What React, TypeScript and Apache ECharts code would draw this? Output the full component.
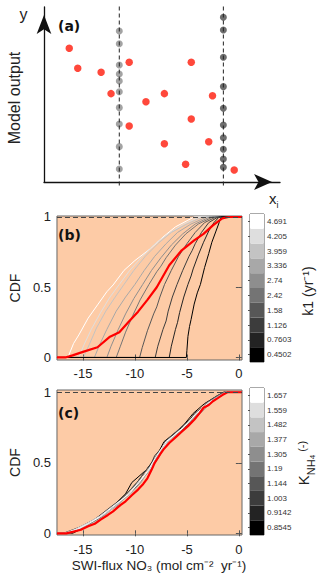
import React, { useEffect, useRef } from 'react';
import * as echarts from 'echarts';

const FONT = '"Liberation Sans", Arial, Helvetica, sans-serif';
const BOLD_FONT = '"DejaVu Sans", Verdana, sans-serif';
const BG = '#fdcba6';

// ---------- Panel (a): schematic ----------
const redDotsX = [1.07, 1.43, 2.42, 2.84, 3.61, 3.61, 4.32, 5.10, 5.10, 6.00, 6.24, 6.24, 6.98, 7.14, 8.06];
const redDotsY = [7.64, 6.50, 6.27, 5.05, 6.84, 3.20, 4.59, 5.05, 2.19, 1.01, 6.84, 3.60, 2.30, 4.93, 0.69];
const xiPositions = [3.19, 7.60];
const lightDotsY = [8.63, 7.90, 6.69, 6.17, 5.77, 5.16, 4.25, 3.31, 2.02, 0.74];
const darkDotsY = [9.41, 8.69, 7.13, 5.45, 4.21, 3.26, 2.53, 1.87, 1.31, 0.84];

// ---------- Colour bars ----------
const k1Labels = ['0.4502', '0.7603', '1.126', '1.58', '2.42', '2.74', '3.336', '3.959', '4.205', '4.691'];
const knh4Labels = ['0.8545', '0.9142', '1.003', '1.144', '1.19', '1.305', '1.377', '1.482', '1.559', '1.657'];
const grayShades = ['#000000', '#232323', '#3c3c3c', '#575757', '#747474', '#8e8e8e', '#a8a8a8', '#c3c3c3', '#dedede', '#ffffff'];

// ---------- Panel (b): CDFs per k1 bin (dark -> light) ----------
const bCurve0 = [[-17.5, 0], [-5.05, 0], [-5.0, 0.05], [-4.9, 0.15], [-4.75, 0.22], [-4.6, 0.27], [-4.3, 0.38], [-4.0, 0.46], [-3.7, 0.52], [-3.5, 0.58], [-3.3, 0.64], [-2.9, 0.74], [-2.6, 0.82], [-2.2, 0.9], [-1.9, 0.96], [-1.7, 1], [0.3, 1]];
const bCurve1 = [[-17.5, 0], [-6.7, 0], [-6.5, 0.08], [-6.1, 0.2], [-5.9, 0.25], [-5.7, 0.32], [-5.3, 0.43], [-4.9, 0.52], [-4.6, 0.58], [-4.4, 0.63], [-3.9, 0.73], [-3.4, 0.82], [-2.9, 0.9], [-2.4, 0.96], [-1.9, 1], [0.3, 1]];
const bCurve2 = [[-17.5, 0], [-8.05, 0], [-7.8, 0.08], [-7.3, 0.2], [-7.0, 0.26], [-6.8, 0.33], [-6.4, 0.43], [-5.95, 0.52], [-5.4, 0.62], [-4.8, 0.72], [-4.5, 0.76], [-4.2, 0.81], [-3.6, 0.89], [-2.9, 0.96], [-2.0, 1], [0.3, 1]];
const bCurve3 = [[-17.5, 0], [-9.55, 0], [-9.3, 0.07], [-8.8, 0.19], [-8.2, 0.31], [-7.9, 0.36], [-7.6, 0.43], [-7.15, 0.52], [-6.5, 0.62], [-5.8, 0.72], [-5.0, 0.81], [-4.2, 0.89], [-3.3, 0.96], [-2.2, 1], [0.3, 1]];
const bCurve4 = [[-17.5, 0], [-11.8, 0], [-11.4, 0.08], [-10.9, 0.18], [-10.2, 0.3], [-9.5, 0.41], [-8.65, 0.52], [-7.9, 0.61], [-7.5, 0.65], [-7.0, 0.71], [-6.1, 0.8], [-5.1, 0.88], [-3.9, 0.95], [-2.5, 1], [0.3, 1]];
const bCurve5 = [[-17.5, 0], [-12.7, 0], [-12.3, 0.08], [-11.6, 0.2], [-10.9, 0.31], [-10.1, 0.42], [-9.25, 0.52], [-8.4, 0.62], [-7.5, 0.71], [-6.5, 0.8], [-5.4, 0.88], [-4.2, 0.95], [-2.8, 1], [0.3, 1]];
const bCurve6 = [[-17.5, 0], [-13.9, 0], [-13.4, 0.09], [-12.7, 0.2], [-11.8, 0.33], [-10.9, 0.43], [-10.0, 0.52], [-9.1, 0.62], [-8.1, 0.72], [-7.0, 0.81], [-5.9, 0.89], [-4.6, 0.95], [-3.1, 1], [0.3, 1]];
const bCurve7 = [[-17.5, 0], [-14.95, 0], [-14.4, 0.09], [-13.7, 0.21], [-12.8, 0.33], [-11.9, 0.43], [-11.05, 0.52], [-10.1, 0.62], [-9.0, 0.72], [-7.8, 0.81], [-6.5, 0.89], [-5.0, 0.95], [-3.5, 1], [0.3, 1]];
const bCurve8 = [[-17.5, 0], [-15.4, 0], [-14.9, 0.09], [-14.2, 0.2], [-13.3, 0.32], [-12.4, 0.43], [-11.5, 0.52], [-10.5, 0.62], [-9.4, 0.71], [-8.2, 0.8], [-6.8, 0.88], [-5.3, 0.95], [-3.8, 1], [0.3, 1]];
const bCurve9 = [[-17.5, 0], [-16.45, 0], [-15.9, 0.1], [-15.4, 0.16], [-14.5, 0.28], [-13.6, 0.374], [-12.7, 0.468], [-12.1, 0.516], [-11.05, 0.62], [-10.0, 0.69], [-8.5, 0.775], [-7.3, 0.857], [-6.1, 0.93], [-4.9, 0.977], [-4.3, 1], [0.3, 1]];
const bRed = [[-17.5, 0], [-16.7, 0], [-16.0, 0.015], [-15.0, 0.04], [-13.6, 0.073], [-12.4, 0.148], [-11.5, 0.18], [-10.6, 0.255], [-9.7, 0.326], [-8.8, 0.41], [-7.9, 0.5], [-6.7, 0.656], [-5.5, 0.763], [-4.3, 0.834], [-3.4, 0.88], [-2.5, 0.94], [-1.6, 0.99], [-1.0, 1], [0.3, 1]];
const bCurves = [bCurve0, bCurve1, bCurve2, bCurve3, bCurve4, bCurve5, bCurve6, bCurve7, bCurve8, bCurve9];

// ---------- Panel (c): CDFs per K_NH4 bin (dark -> light) ----------
const cLevels = [0, 0, 0.03, 0.07, 0.12, 0.2, 0.28, 0.36, 0.45, 0.55, 0.65, 0.75, 0.85, 0.92, 0.97, 1, 1];
const cCurve0 = [-17.5, -16.0, -15.2, -14.3, -13.4, -12.0, -10.9, -10.3, -8.9, -7.9, -7.2, -5.5, -4.4, -3.3, -2.2, -1.5, 0.3];
const cCurve1 = [-17.5, -16.3, -15.6, -14.6, -13.3, -11.9, -10.8, -9.8, -8.9, -7.8, -7.0, -5.6, -4.0, -3.1, -2.1, -1.4, 0.3];
const cCurve2 = [-17.5, -16.9, -15.8, -14.4, -13.5, -12.1, -10.6, -9.6, -8.7, -8.1, -6.9, -5.2, -4.3, -2.9, -2.0, -1.3, 0.3];
const cCurve3 = [-17.5, -16.4, -15.5, -14.3, -13.1, -11.8, -10.8, -9.8, -8.9, -7.7, -7.1, -5.6, -3.8, -3.2, -2.2, -1.4, 0.3];
const cCurve4 = [-17.5, -16.6, -15.7, -14.6, -13.4, -11.9, -10.5, -9.5, -8.6, -8.0, -6.9, -5.1, -4.2, -3.0, -2.1, -1.4, 0.3];
const cCurve5 = [-17.5, -16.2, -15.3, -14.2, -13.3, -11.6, -10.6, -9.7, -8.5, -7.6, -7.0, -5.4, -3.7, -2.8, -1.9, -1.3, 0.3];
const cCurve6 = [-17.5, -16.7, -15.4, -14.0, -13.0, -11.8, -10.4, -9.4, -8.7, -7.9, -6.8, -5.3, -4.1, -2.9, -1.9, -1.2, 0.3];
const cCurve7 = [-17.5, -16.5, -15.6, -14.5, -13.2, -11.7, -10.7, -9.6, -8.6, -7.8, -6.9, -5.0, -3.9, -3.1, -2.0, -1.3, 0.3];
const cCurve8 = [-17.5, -16.8, -15.7, -14.6, -13.4, -12.0, -10.5, -9.7, -8.6, -7.7, -6.9, -5.4, -4.0, -2.8, -1.9, -1.2, 0.3];
const cCurve9 = [-17.5, -16.6, -15.5, -14.4, -13.3, -11.9, -10.6, -9.6, -8.7, -7.9, -7.0, -5.3, -4.1, -3.0, -1.9, -1.2, 0.3];
const cCurves = [cCurve0, cCurve1, cCurve2, cCurve3, cCurve4, cCurve5, cCurve6, cCurve7, cCurve8, cCurve9];
const cRed = [[-17.5, 0], [-16.6, 0], [-16.0, 0.01], [-15.2, 0.025], [-14.5, 0.05], [-13.8, 0.07], [-13.3, 0.097], [-12.6, 0.13], [-12.1, 0.156], [-11.4, 0.2], [-10.9, 0.227], [-10.3, 0.27], [-9.7, 0.31], [-9.2, 0.35], [-8.8, 0.39], [-8.4, 0.45], [-8.1, 0.5], [-7.6, 0.557], [-7.2, 0.6], [-6.7, 0.64], [-6.1, 0.68], [-5.5, 0.72], [-4.9, 0.76], [-4.3, 0.805], [-3.8, 0.85], [-3.4, 0.89], [-2.9, 0.91], [-2.5, 0.936], [-2.0, 0.96], [-1.6, 0.98], [-1.1, 1], [0.3, 1]];

const xTickValues = [-15, -10, -5, 0];
const yTickValues = [0, 0.5, 1];

function buildOption() {
  const tickStyle = { show: true, inside: true, length: 3, lineStyle: { color: '#555', width: 1 } };
  const labelStyle = { fontSize: 13, fontFamily: FONT, color: '#222' };

  const cdfAxesX = (gridIndex: number, margin: number) => [
    {
      type: 'value', gridIndex, min: -17.5, max: 0.3, position: 'bottom',
      axisLine: { show: false }, splitLine: { show: false },
      axisTick: { ...tickStyle, customValues: xTickValues },
      axisLabel: { ...labelStyle, margin, customValues: xTickValues },
    },
    {
      type: 'value', gridIndex, min: -17.5, max: 0.3, position: 'top',
      axisLine: { show: false }, splitLine: { show: false },
      axisTick: { ...tickStyle, customValues: xTickValues },
      axisLabel: { show: false },
    },
  ];
  const cdfAxesY = (gridIndex: number, min: number, max: number) => [
    {
      type: 'value', gridIndex, min, max, position: 'left',
      axisLine: { show: false }, splitLine: { show: false },
      axisTick: { ...tickStyle, customValues: yTickValues },
      axisLabel: { ...labelStyle, margin: 6, customValues: yTickValues },
      name: 'CDF', nameLocation: 'middle', nameRotate: 90, nameGap: 28,
      nameTextStyle: { fontSize: 14, fontFamily: FONT, color: '#222' },
    },
    {
      type: 'value', gridIndex, min, max, position: 'right',
      axisLine: { show: false }, splitLine: { show: false },
      axisTick: { ...tickStyle, customValues: yTickValues },
      axisLabel: { show: false },
    },
  ];
  const cbAxisX = (gridIndex: number) => ({ type: 'value', gridIndex, min: 0, max: 1, show: false });
  const cbAxisY = (gridIndex: number, labels: string[]) => ({
    type: 'category', gridIndex, data: labels, position: 'right',
    axisLine: { show: false },
    axisTick: { show: true, inside: true, length: 2, alignWithLabel: true, lineStyle: { color: '#555' } },
    axisLabel: { fontSize: 8, fontFamily: FONT, color: '#333', margin: 3 },
    splitLine: { show: false },
  });

  const series: any[] = [];

  // Panel (a)
  xiPositions.forEach((xv) => {
    series.push({
      type: 'line', xAxisIndex: 0, yAxisIndex: 0, clip: false, showSymbol: false, silent: true,
      data: [[xv, -0.2], [xv, 10.1]],
      lineStyle: { color: '#222', width: 1, type: [4, 3] },
    });
  });
  series.push({
    type: 'scatter', xAxisIndex: 0, yAxisIndex: 0, symbolSize: 7,
    data: lightDotsY.map((y) => [xiPositions[0], y]),
    itemStyle: { color: '#8c8c8c' },
  });
  series.push({
    type: 'scatter', xAxisIndex: 0, yAxisIndex: 0, symbolSize: 7,
    data: darkDotsY.map((y) => [xiPositions[1], y]),
    itemStyle: { color: '#4a4a4a' },
  });
  series.push({
    type: 'scatter', xAxisIndex: 0, yAxisIndex: 0, symbolSize: 7.5,
    data: redDotsX.map((x, i) => [x, redDotsY[i]]),
    itemStyle: { color: '#ff1a0a' },
  });

  const dashedOne = {
    silent: true, symbol: 'none', label: { show: false },
    lineStyle: { color: '#444', width: 1, type: [5, 3] },
    data: [{ yAxis: 1 }],
  };

  // Panel (b): light curves first, dark on top
  for (let i = bCurves.length - 1; i >= 0; i--) {
    series.push({
      type: 'line', xAxisIndex: 1, yAxisIndex: 1, showSymbol: false, silent: true,
      data: bCurves[i], lineStyle: { color: grayShades[i], width: 1 },
      ...(i === bCurves.length - 1 ? { markLine: dashedOne } : {}),
    });
  }
  series.push({
    type: 'line', xAxisIndex: 1, yAxisIndex: 1, showSymbol: false, silent: true,
    data: bRed, lineStyle: { color: '#ff0000', width: 2.2 },
  });

  // Colour bar (b)
  series.push({
    type: 'bar', xAxisIndex: 3, yAxisIndex: 3, barWidth: '100%', barCategoryGap: '0%', silent: true,
    data: grayShades.map((c) => ({ value: 1, itemStyle: { color: c } })),
  });

  // Panel (c): dark curves first, light on top
  for (let i = 0; i < cCurves.length; i++) {
    series.push({
      type: 'line', xAxisIndex: 4, yAxisIndex: 4, showSymbol: false, silent: true,
      data: cCurves[i].map((x, k) => [x, cLevels[k]]), lineStyle: { color: grayShades[i], width: 1 },
      ...(i === 0 ? { markLine: dashedOne } : {}),
    });
  }
  series.push({
    type: 'line', xAxisIndex: 4, yAxisIndex: 4, showSymbol: false, silent: true,
    data: cRed, lineStyle: { color: '#ff0000', width: 2.2 },
  });

  // Colour bar (c)
  series.push({
    type: 'bar', xAxisIndex: 6, yAxisIndex: 6, barWidth: '100%', barCategoryGap: '0%', silent: true,
    data: grayShades.map((c) => ({ value: 1, itemStyle: { color: c } })),
  });

  const txt = (x: number, y: number, text: string, extra: any = {}, rotation = 0) => ({
    type: 'text', x, y, rotation, silent: true,
    style: {
      text, fill: '#222', fontSize: 14, fontFamily: FONT,
      textAlign: 'center', textVerticalAlign: 'middle', ...extra,
    },
  });

  return {
    animation: false,
    backgroundColor: '#ffffff',
    grid: [
      { left: 44, top: 7, width: 236, height: 175 },
      { left: 44, top: 216, width: 198, height: 144, show: true, backgroundColor: BG, borderColor: '#666', borderWidth: 1 },
      { left: 250, top: 214, width: 14, height: 148, show: true, borderColor: '#555', borderWidth: 1 },
      { left: 44, top: 390, width: 198, height: 145, show: true, backgroundColor: BG, borderColor: '#666', borderWidth: 1 },
      { left: 250, top: 388, width: 14, height: 147, show: true, borderColor: '#555', borderWidth: 1 },
    ],
    xAxis: [
      {
        type: 'value', gridIndex: 0, min: 0, max: 10,
        axisLine: { show: true, onZero: true, symbol: ['none', 'arrow'], symbolSize: [12, 18], symbolOffset: [0, -8], lineStyle: { color: '#111', width: 1.3 } },
        axisTick: { show: false }, axisLabel: { show: false }, splitLine: { show: false },
      },
      ...cdfAxesX(1, 7),
      cbAxisX(2),
      ...cdfAxesX(3, 8),
      cbAxisX(4),
    ],
    yAxis: [
      {
        type: 'value', gridIndex: 0, min: 0, max: 10,
        axisLine: { show: true, onZero: true, symbol: ['none', 'arrow'], symbolSize: [11, 19], symbolOffset: [0, -8], lineStyle: { color: '#111', width: 1.3 } },
        axisTick: { show: false }, axisLabel: { show: false }, splitLine: { show: false },
      },
      ...cdfAxesY(1, -0.018, 1.007),
      cbAxisY(2, k1Labels),
      ...cdfAxesY(3, -0.012, 1.016),
      cbAxisY(4, knh4Labels),
    ],
    series,
    graphic: [
      txt(23.5, 14, 'y', { fontSize: 16 }),
      txt(58, 26, '(a)', { fontSize: 14, fontWeight: 'bold', fontFamily: BOLD_FONT, textAlign: 'left', fill: '#111' }),
      txt(14, 98, 'Model output', { fontSize: 16 }, Math.PI / 2),
      {
        type: 'text', x: 269, y: 191, silent: true,
        style: {
          text: '{m|x}{s|i}', fill: '#222', fontFamily: FONT,
          rich: {
            m: { fontSize: 15, fontFamily: FONT, fill: '#222', lineHeight: 18, verticalAlign: 'top' },
            s: { fontSize: 9, fontFamily: FONT, fill: '#222', lineHeight: 10, verticalAlign: 'bottom' },
          },
        },
      },
      txt(58, 235, '(b)', { fontSize: 14, fontWeight: 'bold', fontFamily: BOLD_FONT, textAlign: 'left', fill: '#111' }),
      txt(58, 413, '(c)', { fontSize: 14, fontWeight: 'bold', fontFamily: BOLD_FONT, textAlign: 'left', fill: '#111' }),
      txt(308, 291, 'k1 (yr\u207B\u00B9)', { fontSize: 14 }, Math.PI / 2),
      {
        type: 'text', x: 306, y: 463, rotation: Math.PI / 2, silent: true,
        style: {
          text: '{m|K}{s|NH}{t|4}{r| (-)}', fill: '#222', fontFamily: FONT,
          textAlign: 'center', textVerticalAlign: 'middle',
          rich: {
            m: { fontSize: 15, fontFamily: FONT, fill: '#222', lineHeight: 20, verticalAlign: 'top' },
            s: { fontSize: 11, fontFamily: FONT, fill: '#222', lineHeight: 11, verticalAlign: 'bottom' },
            t: { fontSize: 8, fontFamily: FONT, fill: '#222', lineHeight: 8, verticalAlign: 'bottom' },
            r: { fontSize: 11, fontFamily: FONT, fill: '#222', lineHeight: 12, verticalAlign: 'top' },
          },
        },
      },
      txt(159, 565, 'SWI-flux NO\u2083 (mol cm\u207B\u00B2  yr\u207B\u00B9)', { fontSize: 13.5 }),
    ],
  };
}

export default function App() {
  const ref = useRef<HTMLDivElement>(null);
  useEffect(() => {
    if (!ref.current) return;
    const chart = echarts.init(ref.current, undefined, { renderer: 'svg' });
    chart.setOption(buildOption() as any);
    return () => chart.dispose();
  }, []);
  return <div ref={ref} style={{ position: 'fixed', left: 0, top: 0, width: 320, height: 579 }} />;
}
